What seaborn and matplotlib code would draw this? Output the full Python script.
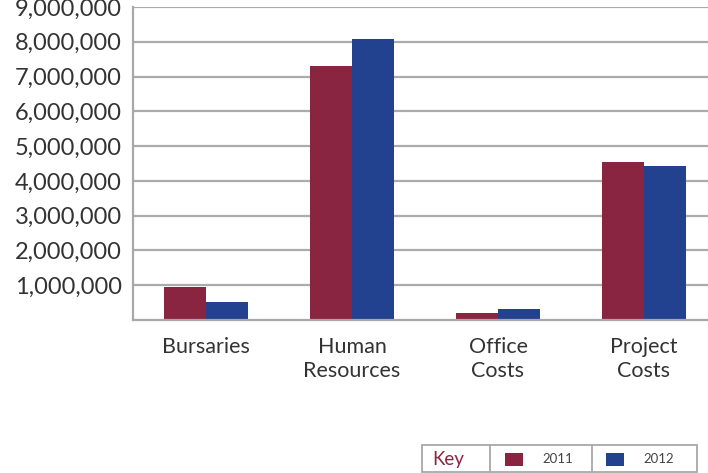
import matplotlib
matplotlib.use("Agg")
import matplotlib.pyplot as plt
import seaborn as sns
import pandas as pd
from matplotlib.patches import Rectangle
from matplotlib.lines import Line2D
from matplotlib.ticker import FuncFormatter, FixedLocator

categories = ["Bursaries", "Human\nResources", "Office\nCosts", "Project\nCosts"]
years = ["2011", "2012"]
values_2011 = [950000, 7300000, 210000, 4530000]
values_2012 = [520000, 8070000, 310000, 4430000]
y_ticks = [1000000, 2000000, 3000000, 4000000, 5000000, 6000000, 7000000, 8000000, 9000000]

colors = {"2011": "#8A2541", "2012": "#22418F"}

df = pd.DataFrame({
    "category": categories * 2,
    "year": ["2011"] * 4 + ["2012"] * 4,
    "value": values_2011 + values_2012,
})

sns.set_theme(style="white")
plt.rcParams["font.family"] = ["Lato", "DejaVu Sans"]

W, H = 708, 473
fig = plt.figure(figsize=(W / 100, H / 100), dpi=100)
left_px, right_px, top_px, bot_px = 133, 708, 7, 320
ax = fig.add_axes([left_px / W, 1 - bot_px / H, (right_px - left_px) / W, (bot_px - top_px) / H])

sns.barplot(data=df, x="category", y="value", hue="year", palette=colors,
            width=0.57, ax=ax, legend=False, saturation=1, edgecolor="none")

cat_w = 146.0
ax.set_xlim(-0.5, -0.5 + (right_px - left_px) / cat_w)
ax.set_ylim(0, 9000000)
ax.set_xlabel("")
ax.set_ylabel("")

ax.yaxis.set_major_locator(FixedLocator(y_ticks))
ax.yaxis.set_major_formatter(FuncFormatter(lambda v, p: f"{int(v):,}"))
ax.grid(axis="y", color="#ABABAB", linewidth=1.6)
ax.set_axisbelow(True)

for s in ["top", "right"]:
    ax.spines[s].set_visible(False)
for s in ["left", "bottom"]:
    ax.spines[s].set_color("#A8A8A8")
    ax.spines[s].set_linewidth(1.6)

ax.tick_params(axis="y", labelsize=17, labelcolor="#333333", length=4, color="#A8A8A8", pad=4, width=1.2)
ax.tick_params(axis="x", which="major", labelsize=15.5, labelcolor="#333333", length=0, pad=12)
ax.set_xticks([0.5, 1.5, 2.5], minor=True)
ax.tick_params(axis="x", which="minor", length=4, color="#A8A8A8", width=1.2)
for lbl in ax.get_xticklabels():
    lbl.set_linespacing(1.3)

# Key box
def fx(px):
    return px / W

def fy(py):
    return 1 - py / H

bx0, bx1, by0, by1 = 422, 697, 445, 472
fig.add_artist(Rectangle((fx(bx0), fy(by1)), fx(bx1) - fx(bx0), fy(by0) - fy(by1),
                         transform=fig.transFigure, facecolor="white", edgecolor="#A8A8A8", linewidth=1.3))
for xd in [490, 592]:
    fig.add_artist(Line2D([fx(xd), fx(xd)], [fy(by1), fy(by0)], transform=fig.transFigure,
                          color="#A8A8A8", linewidth=1.3))
fig.text(fx(432), fy(459), "Key", color="#8A2541", fontsize=13.5, va="center", ha="left")
for x0, yr in [(505, "2011"), (606, "2012")]:
    fig.add_artist(Rectangle((fx(x0), fy(466)), fx(18), fy(453) - fy(466),
                             transform=fig.transFigure, facecolor=colors[yr], edgecolor="none"))
    fig.text(fx(x0 + 37), fy(459), yr, color="#444444", fontsize=9.5, va="center", ha="left")

fig.savefig("out.png", dpi=100)
